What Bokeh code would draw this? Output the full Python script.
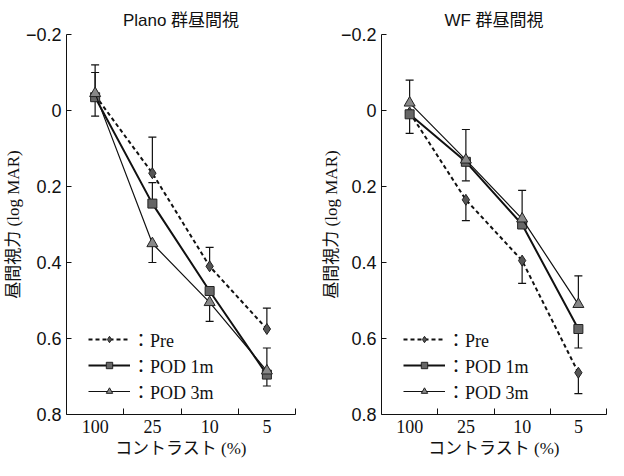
from bokeh.plotting import figure
from bokeh.models import Range1d, FixedTicker, Legend, LegendItem, Whisker, ColumnDataSource, TeeHead
from bokeh.layouts import row
from bokeh.embed import file_html
from bokeh.resources import INLINE

categories = ["100", "25", "10", "5"]
y_ticks = [-0.2, 0.0, 0.2, 0.4, 0.6, 0.8]
y_tick_labels = ["\u22120.2", "0", "0.2", "0.4", "0.6", "0.8"]

# Plano group
plano_pre = [-0.04, 0.165, 0.41, 0.575]
plano_pod1 = [-0.035, 0.245, 0.475, 0.695]
plano_pod3 = [-0.045, 0.35, 0.505, 0.685]
plano_pre_up = [0.08, 0.095, 0.05, 0.055]
plano_pre_down = [0, 0, 0, 0]
plano_pod1_up = [0, 0.055, 0, 0]
plano_pod1_down = [0.05, 0, 0, 0.03]
plano_pod3_up = [0.055, 0, 0, 0.06]
plano_pod3_down = [0, 0.05, 0.05, 0]

# WF group
wf_pre = [0.005, 0.235, 0.395, 0.69]
wf_pod1 = [0.01, 0.135, 0.30, 0.575]
wf_pod3 = [-0.02, 0.13, 0.285, 0.51]
wf_pre_up = [0, 0, 0, 0]
wf_pre_down = [0, 0.055, 0.06, 0.055]
wf_pod1_up = [0, 0, 0, 0]
wf_pod1_down = [0.05, 0.05, 0, 0.05]
wf_pod3_up = [0.06, 0.08, 0.075, 0.075]
wf_pod3_down = [0, 0, 0, 0]

series_labels = ["\uff1aPre", "\uff1aPOD 1m", "\uff1aPOD 3m"]

SERIF = "'Liberation Serif', 'Noto Sans CJK JP'"
SANS = "'Liberation Sans', 'Noto Sans CJK JP'"
CJK = "'Liberation Serif', 'Noto Sans CJK JP'"

xs = [i + 0.5 for i in range(len(categories))]
bounds = [i + 1 for i in range(len(categories))]


def add_err(p, vals, up, down):
    for sign, errs in ((-1, up), (1, down)):
        b, h, l = [], [], []
        for x, v, e in zip(xs, vals, errs):
            if e > 0:
                b.append(x); h.append(v + sign * e); l.append(v)
        if b:
            src = ColumnDataSource(dict(base=b, upper=h, lower=l))
            p.add_layout(Whisker(source=src, base="base", upper="upper", lower="lower",
                                 dimension="height", line_color="#111", line_width=1.2,
                                 upper_head=TeeHead(size=8, line_color="#111", line_width=1.2),
                                 lower_head=None))


def panel(title, pre, pod1, pod3, errs, width, bl, br, label_standoff):
    p = figure(width=width, height=460, x_range=Range1d(0, len(categories)),
               y_range=Range1d(0.8, -0.2), output_backend="svg", toolbar_location=None,
               min_border_left=bl, min_border_right=br, min_border_top=34, min_border_bottom=0,
               title=title)
    p.title.align = "center"
    p.title.text_font = SANS
    p.title.text_font_size = "17px"
    p.title.text_font_style = "normal"
    p.title.text_color = "#111"
    p.outline_line_color = None
    p.grid.visible = False
    p.background_fill_color = "white"
    p.border_fill_color = "white"

    xa = p.xaxis[0]
    xa.ticker = FixedTicker(ticks=xs, minor_ticks=bounds)
    xa.major_label_overrides = {x: c for x, c in zip(xs, categories)}
    xa.major_tick_in = 0
    xa.major_tick_out = 0
    xa.minor_tick_in = 6
    xa.minor_tick_out = 0
    xa.axis_line_color = "#111"
    xa.minor_tick_line_color = "#111"
    xa.major_label_text_font = SERIF
    xa.major_label_text_font_size = "18px"
    xa.major_label_text_color = "#111"
    xa.major_label_standoff = 5
    xa.axis_label = "\u30b3\u30f3\u30c8\u30e9\u30b9\u30c8 (%)"
    xa.axis_label_text_font = CJK
    xa.axis_label_text_font_size = "17px"
    xa.axis_label_text_font_style = "normal"
    xa.axis_label_text_color = "#111"
    xa.axis_label_standoff = 3

    ya = p.yaxis[0]
    ya.ticker = FixedTicker(ticks=y_ticks)
    ya.major_label_overrides = {t: l for t, l in zip(y_ticks, y_tick_labels)}
    ya.major_tick_in = 5
    ya.major_tick_out = 0
    ya.minor_tick_line_color = None
    ya.axis_line_color = "#111"
    ya.major_tick_line_color = "#111"
    ya.major_label_text_font = SANS
    ya.major_label_text_font_size = "18px"
    ya.major_label_text_color = "#111"
    ya.major_label_standoff = 5
    ya.axis_label = "\u663c\u9593\u8996\u529b (log MAR)"
    ya.axis_label_text_font = CJK
    ya.axis_label_text_font_size = "17px"
    ya.axis_label_text_font_style = "normal"
    ya.axis_label_text_color = "#111"
    ya.axis_label_standoff = label_standoff

    for vals, (up, down) in zip([pre, pod1, pod3], errs):
        add_err(p, vals, up, down)

    l1 = p.line(xs, pre, line_color="#111", line_width=2, line_dash="4 3")
    m1 = p.scatter(xs, pre, marker="diamond", size=11, fill_color="#555", line_color="#222", line_width=1)
    l2 = p.line(xs, pod1, line_color="#111", line_width=2)
    m2 = p.scatter(xs, pod1, marker="square", size=9, fill_color="#666", line_color="#222", line_width=1)
    l3 = p.line(xs, pod3, line_color="#111", line_width=1.2)
    m3 = p.scatter(xs, pod3, marker="triangle", size=11, fill_color="#888", line_color="#222", line_width=1)

    legend = Legend(items=[LegendItem(label=series_labels[0], renderers=[l1, m1]),
                           LegendItem(label=series_labels[1], renderers=[l2, m2]),
                           LegendItem(label=series_labels[2], renderers=[l3, m3])],
                    location=(22, 10), glyph_width=42, glyph_height=16, label_height=16,
                    spacing=0, padding=0, margin=0, label_standoff=2,
                    label_text_font=SERIF, label_text_font_size="18px", label_text_color="#111",
                    background_fill_alpha=0, border_line_color=None)
    p.add_layout(legend)
    return p


p1 = panel("Plano \u7fa4\u663c\u9593\u8996", plano_pre, plano_pod1, plano_pod3,
           [(plano_pre_up, plano_pre_down), (plano_pod1_up, plano_pod1_down), (plano_pod3_up, plano_pod3_down)],
           308, 58, 13, 0)
p2 = panel("WF \u7fa4\u663c\u9593\u8996", wf_pre, wf_pod1, wf_pod3,
           [(wf_pre_up, wf_pre_down), (wf_pod1_up, wf_pod1_down), (wf_pod3_up, wf_pod3_down)],
           300, 73, 2, -3)

layout = row(p1, p2)
open("out.html", "w").write(file_html(layout, INLINE))
